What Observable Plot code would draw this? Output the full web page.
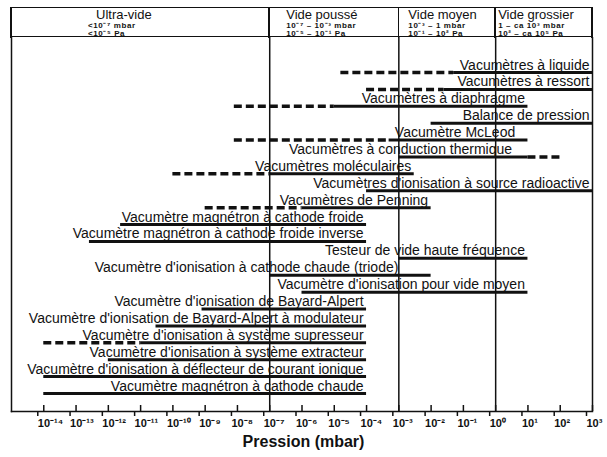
<!DOCTYPE html>
<html><head><meta charset="utf-8">
<script src="https://cdn.jsdelivr.net/npm/d3@7"></script>
<script src="https://cdn.jsdelivr.net/npm/@observablehq/plot@0.6"></script>
<style>
body{margin:0;background:#fff;font-family:"Liberation Sans",Arial,sans-serif;color:#000;}
#wrap{position:relative;width:607px;height:457px;overflow:hidden;background:#fff}
#header{position:relative;height:37px}
.hl{position:absolute;background:#111}
.ht{position:absolute;font-size:13px;line-height:14px;white-space:nowrap;color:#111}
.hs{position:absolute;font-size:8px;font-weight:bold;line-height:8px;letter-spacing:0.6px;white-space:nowrap;color:#111}
#chart svg{display:block}
#caption{height:27px;text-align:center;font-weight:bold;font-size:16px;line-height:24px;color:#111}
</style></head>
<body><div id="wrap"><div id="header"></div><div id="chart"></div><div id="caption">Pression (mbar)</div></div>
<script>
// ---- data (pressures in mbar) ----
const names = [
  "Vacumètres à liquide",
  "Vacumètres à ressort",
  "Vacumètres à diaphragme",
  "Balance de pression",
  "Vacumètre McLeod",
  "Vacumètres à conduction thermique",
  "Vacumètres moléculaires",
  "Vacumètres d'ionisation à source radioactive",
  "Vacumètres de Penning",
  "Vacumètre magnétron à cathode froide",
  "Vacumètre magnétron à cathode froide inverse",
  "Testeur de vide haute fréquence",
  "Vacumètre d'ionisation à cathode chaude (triode)",
  "Vacumètre d'ionisation pour vide moyen",
  "Vacumètre d'ionisation de Bayard-Alpert",
  "Vacumètre d'ionisation de Bayard-Alpert à modulateur",
  "Vacumètre d'ionisation à système supresseur",
  "Vacumètre d'ionisation à système extracteur",
  "Vacumètre d'ionisation à déflecteur de courant ionique",
  "Vacumètre magnétron à cathode chaude"
];
const solidFrom = [0.05, 0.025, 1e-5, 1e-2, 5e-4, 1e-3, 1e-7, 1e-4, 1e-6, 2.4e-12, 2.6e-13, 1e-3, 1e-7, 1e-6, 8e-10, 3e-11, 1e-11, 1e-12, 1e-14, 1e-14];
const solidTo   = [1e3, 1e3, 10, 1e3, 10, 10, 3e-3, 1e3, 1e-2, 1e-4, 1e-4, 10, 1e-2, 10, 1e-4, 1e-4, 1e-4, 1e-4, 1e-4, 1e-4];
const dashFrom  = [1.6e-5, 1e-4, 8e-9, null, 8e-9, 10, 1e-10, null, 1e-9, null, null, null, null, null, null, null, 1e-14, null, null, null];
const dashTo    = [0.05, 0.025, 1e-5, null, 5e-4, 100, 1e-7, null, 1e-6, null, null, null, null, null, null, null, 1e-11, null, null, null];
const labelAt   = [1e3, 1e3, 10, 1e3, 5, 4, 3e-3, 1e3, 1e-2, 1e-4, 1e-4, 10, 1.2e-3, 10, 1e-4, 1e-4, 1e-4, 1e-4, 1e-4, 1e-4];
const tickValues = [1e-14,1e-13,1e-12,1e-11,1e-10,1e-9,1e-8,1e-7,1e-6,1e-5,1e-4,1e-3,1e-2,1e-1,1,10,100,1000];
const zoneBounds = [1e-15, 1e-7, 1e-3, 1, 1e3];
const zoneNames = ["Ultra-vide", "Vide poussé", "Vide moyen", "Vide grossier"];
const zoneMbar = ["<10⁻⁷ mbar", "10⁻⁷ – 10⁻³ mbar", "10⁻³ – 1 mbar", "1 – ca 10³ mbar"];
const zonePa = ["<10⁻⁵ Pa", "10⁻⁵ – 10⁻¹ Pa", "10⁻¹ – 10² Pa", "10² – ca 10⁵ Pa"];

// ---- build table ----
const rows = names.map((name, i) => ({name, row: i, solidFrom: solidFrom[i], solidTo: solidTo[i], dashFrom: dashFrom[i], dashTo: dashTo[i], labelAt: labelAt[i]}));
const dashRows = rows.filter(d => d.dashFrom != null);

const supMap = {"-":"⁻","0":"⁰","1":"¹","2":"²","3":"³","4":"⁴","5":"⁵","6":"⁶","7":"⁷","8":"⁸","9":"⁹"};
const sup = n => String(n).split("").map(c => supMap[c]).join("");
const fmt = d => "10" + sup(Math.round(Math.log10(d)));

const plot = Plot.plot({
  width: 607, height: 393,
  marginLeft: 11, marginRight: 15, marginTop: 0, marginBottom: 19,
  style: {fontFamily: '"Liberation Sans", Arial, sans-serif', color: "#111", background: "#fff", overflow: "visible"},
  x: {type: "log", domain: [1e-15, 1e3]},
  y: {type: "linear", domain: [0, names.length - 1], range: [35, 356], axis: null},
  marks: [
    Plot.frame({anchor: "left", strokeWidth: 1.5}),
    Plot.frame({anchor: "bottom", strokeWidth: 1.5}),
    Plot.ruleX(zoneBounds.slice(1), {strokeWidth: 1.5}),
    Plot.axisX({ticks: tickValues, tickSize: 5, tickPadding: 3, tickFormat: fmt, fontSize: 11, fontWeight: "bold", textAnchor: "start", dx: -6, strokeWidth: 1.5, label: null}),
    Plot.axisX({ticks: tickValues, tickSize: -6, tickFormat: () => "", strokeWidth: 1.5, label: null}),
    Plot.ruleY(dashRows, {y: "row", x1: "dashFrom", x2: "dashTo", strokeWidth: 3.5, strokeDasharray: "8,4"}),
    Plot.ruleY(rows, {y: "row", x1: "solidFrom", x2: "solidTo", strokeWidth: 3}),
    Plot.text(rows, {x: "labelAt", y: "row", text: "name", textAnchor: "end", lineAnchor: "bottom", dx: -3, dy: -3, fontSize: 14})
  ]
});
document.getElementById("chart").appendChild(plot);

// ---- header built from the same x scale ----
const xs = plot.scale("x");
const header = document.getElementById("header");
const hx = zoneBounds.map(v => xs.apply(v));
function line(l, t, w, h) {
  const e = document.createElement("div"); e.className = "hl";
  Object.assign(e.style, {left: l + "px", top: t + "px", width: w + "px", height: h + "px"});
  header.appendChild(e);
}
line(hx[0] - 1, 6.5, hx[4] - hx[0] + 1.5, 1.5);
line(hx[0] - 1, 35.5, hx[4] - hx[0] + 1.5, 1.5);
hx.forEach(x => line(x - 0.75, 6.5, 1.5, 31));
const offsets = [77, 17, 10, 3];
zoneNames.forEach((n, i) => {
  const left = hx[i] + offsets[i];
  const t = document.createElement("div"); t.className = "ht"; t.textContent = n;
  t.style.left = (i === 0 ? left + 8 : left) + "px"; t.style.top = "8px";
  header.appendChild(t);
  const a = document.createElement("div"); a.className = "hs"; a.textContent = zoneMbar[i];
  a.style.left = left + "px"; a.style.top = "21.5px"; header.appendChild(a);
  const b = document.createElement("div"); b.className = "hs"; b.textContent = zonePa[i];
  b.style.left = left + "px"; b.style.top = "29.5px"; header.appendChild(b);
});
</script>
</body></html>
